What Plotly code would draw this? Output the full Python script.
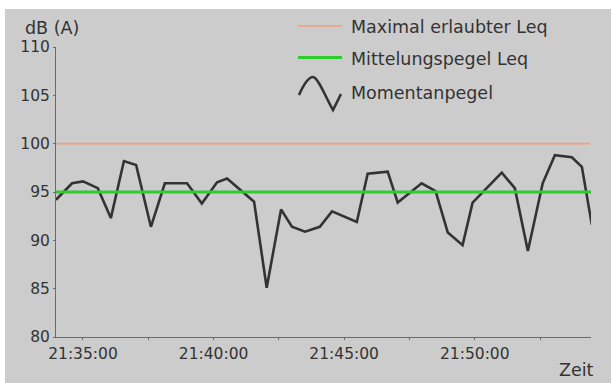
import plotly.graph_objects as go

# ---- data ----
day = "2024-01-01 "
times = ["21:33:58", "21:34:35", "21:35:00", "21:35:34", "21:36:04", "21:36:34",
         "21:37:02", "21:37:36", "21:38:08", "21:38:59", "21:39:33", "21:40:08",
         "21:40:31", "21:41:33", "21:42:02", "21:42:35", "21:43:00", "21:43:30",
         "21:44:04", "21:44:32", "21:45:29", "21:45:54", "21:46:40", "21:47:03",
         "21:47:58", "21:48:30", "21:48:58", "21:49:32", "21:49:55", "21:51:02",
         "21:51:32", "21:52:02", "21:52:36", "21:53:04", "21:53:43", "21:54:06",
         "21:54:29"]
momentan = [94.2, 95.9, 96.1, 95.4, 92.3, 98.2,
            97.8, 91.4, 95.9, 95.9, 93.8, 96.0,
            96.4, 94.0, 85.1, 93.2, 91.4, 90.9,
            91.4, 93.0, 91.9, 96.9, 97.1, 93.9,
            95.9, 95.1, 90.8, 89.5, 93.9, 97.0,
            95.4, 88.9, 95.9, 98.8, 98.6, 97.6,
            91.6]
limit_times = ["21:33:58", "21:54:25"]
max_leq = [100, 100]
mittel_times = ["21:33:58", "21:54:29"]
mittel_leq = [95, 95]
x_range = ["21:33:58", "21:54:27"]
y_range = [80, 110]
y_ticks = [80, 85, 90, 95, 100, 105, 110]
legend_names = ["Maximal erlaubter Leq", "Mittelungspegel Leq", "Momentanpegel"]

# ---- styles ----
FONT = "DejaVu Sans"
TXT = "#333333"
BG = "#cccccc"
ORANGE = "#f2a07c"
GREEN = "#2ecc2e"
DARK = "#333333"
AXIS = "#6a6a6a"

W, H = 611, 383
L, R, T, B = 56, 591, 47, 337
PW, PH = R - L, B - T


def px(x):
    return (x - L) / PW


def py(y):
    return (B - y) / PH


fig = go.Figure()
fig.add_trace(go.Scatter(x=[day + t for t in limit_times], y=max_leq, mode="lines",
                         line=dict(color=ORANGE, width=1.6), showlegend=False,
                         name=legend_names[0]))
fig.add_trace(go.Scatter(x=[day + t for t in times], y=momentan, mode="lines",
                         line=dict(color=DARK, width=2.6), showlegend=False,
                         name=legend_names[2]))
fig.add_trace(go.Scatter(x=[day + t for t in mittel_times], y=mittel_leq, mode="lines",
                         line=dict(color=GREEN, width=3), showlegend=False,
                         name=legend_names[1]))

shapes = [
    # white border strips (top / left)
    dict(type="rect", xref="paper", yref="paper", x0=px(0), x1=px(W), y0=py(9), y1=py(0),
         fillcolor="white", line=dict(width=0), layer="below"),
    dict(type="rect", xref="paper", yref="paper", x0=px(0), x1=px(5), y0=py(H), y1=py(0),
         fillcolor="white", line=dict(width=0), layer="below"),
    # legend glyphs
    dict(type="line", xref="paper", yref="paper", x0=px(298), x1=px(342), y0=py(26), y1=py(26),
         line=dict(color=ORANGE, width=1.6)),
    dict(type="line", xref="paper", yref="paper", x0=px(298), x1=px(342), y0=py(57.5), y1=py(57.5),
         line=dict(color=GREEN, width=3)),
]
pts = [(299, 95), (303, 86), (308, 77), (313, 77), (318, 77), (327, 100), (333, 110), (341, 94)]
pp = [(px(a), py(b)) for a, b in pts]
path = (f"M {pp[0][0]},{pp[0][1]} C {pp[1][0]},{pp[1][1]} {pp[2][0]},{pp[2][1]} {pp[3][0]},{pp[3][1]} "
        f"C {pp[4][0]},{pp[4][1]} {pp[5][0]},{pp[5][1]} {pp[6][0]},{pp[6][1]} L {pp[7][0]},{pp[7][1]}")
shapes.append(dict(type="path", xref="paper", yref="paper", path=path,
                   line=dict(color=DARK, width=2.6)))

annotations = [
    dict(text=legend_names[0], x=px(349), y=py(27), xanchor="left", yanchor="middle"),
    dict(text=legend_names[1], x=px(349), y=py(59), xanchor="left", yanchor="middle"),
    dict(text=legend_names[2], x=px(349), y=py(93), xanchor="left", yanchor="middle"),
    dict(text="dB (A)", x=px(52), y=py(28), xanchor="center", yanchor="middle"),
    dict(text="Zeit", x=px(576), y=py(370), xanchor="center", yanchor="middle"),
]
for a in annotations:
    a.update(xref="paper", yref="paper", showarrow=False,
             font=dict(family=FONT, size=17.5, color=TXT))

fig.update_layout(
    width=W, height=H,
    margin=dict(l=L, r=W - R, t=T, b=H - B, pad=0),
    paper_bgcolor=BG, plot_bgcolor=BG,
    shapes=shapes, annotations=annotations,
    font=dict(family=FONT, size=15.5, color=TXT),
    xaxis=dict(type="date", range=[day + x_range[0], day + x_range[1]],
               tick0=day + "21:35:00", dtick=300000, tickformat="%H:%M:%S",
               showgrid=False, zeroline=False, showline=True, linecolor=AXIS, linewidth=1,
               ticks="outside", ticklen=2, tickcolor=AXIS,
               minor=dict(tick0=day + "21:35:00", dtick=150000, ticks="outside",
                          ticklen=2, tickcolor=AXIS, showgrid=False)),
    yaxis=dict(range=y_range, tickvals=y_ticks, showgrid=False, zeroline=False,
               showline=True, linecolor=AXIS, linewidth=1,
               ticks="outside", ticklen=2, tickcolor=AXIS),
)

fig.write_html("out.html", config={"displayModeBar": False},
               post_script="document.body.style.margin='0px';document.body.style.padding='0px';")
